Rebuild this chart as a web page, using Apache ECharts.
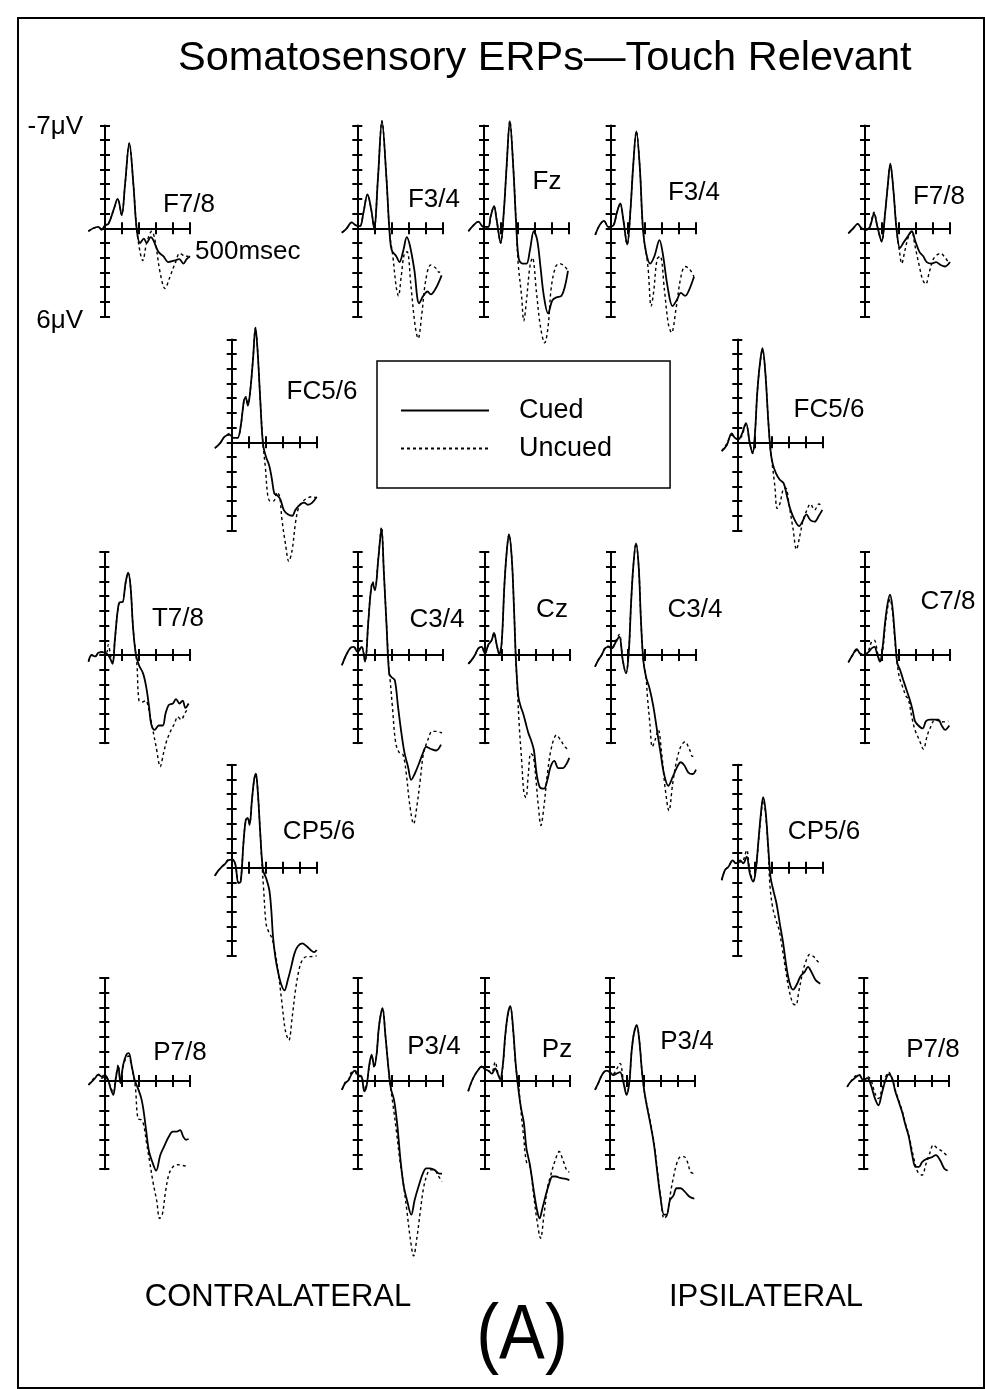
<!DOCTYPE html>
<html>
  <head>
    <meta charset="utf-8" />
    <title>Somatosensory ERPs</title>
    <script src="https://cdn.jsdelivr.net/npm/echarts@6/dist/echarts.min.js"></script>
    <style>
      body { margin: 0; background: #fff; }
    </style>
  </head>
  <body>
    <div id="main" style="width: 985px; height: 1389px;"></div>
    <script type="text/javascript">
      // waveforms: [ms, µV], negative is up
      const f78L_cued = [[-98,0.2],[-69,0],[-39,-0.1],[-20,0.1],[0,-0.2],[20,-0.3],[49,-1.2],[75,-2.0],[98,-0.9],[118,-3.0],[143,-5.8],[167,-3.0],[186,0],[206,1.0],[229,0.7],[245,1.0],[269,0.6],[284,0.8],[314,1.6],[343,1.9],[373,2.3],[406,2.2],[437,2.1],[461,2.4],[480,2.1],[500,1.9]];
      const f78L_uncued = [[-98,0.2],[-69,0],[-39,-0.1],[-20,0.1],[0,-0.2],[20,-0.3],[49,-1.2],[75,-2.0],[98,-0.9],[118,-3.0],[143,-5.8],[167,-3.0],[186,0],[206,1.6],[222,2.2],[245,1.0],[275,0.2],[294,0.8],[324,3.0],[353,4.1],[382,3.3],[412,2.4],[441,1.7],[471,1.9],[490,1.9]];
      const f34L_cued = [[-91,0.3],[-62,0],[-33,-0.4],[-8,-0.2],[16,-0.15],[35,-1.0],[60,-2.3],[83,-1.2],[99,0],[122,-3.5],[145,-7.3],[171,-3.5],[190,0.3],[203,1.5],[229,1.9],[248,2.3],[271,1.5],[291,0.6],[310,1.2],[335,2.8],[364,5.1],[388,4.6],[413,4.3],[432,4.5],[461,4.1],[496,3.2]];
      const f34L_uncued = [[-91,0.3],[-62,0],[-33,-0.4],[-8,-0.2],[16,-0.15],[35,-1.0],[60,-2.3],[83,-1.2],[99,0],[122,-3.5],[145,-7.3],[171,-3.5],[190,0.3],[209,1.9],[229,4.0],[242,4.6],[258,3.3],[277,1.7],[293,1.6],[316,4.0],[341,6.7],[358,7.5],[378,6.0],[403,3.5],[432,2.5],[461,2.7],[481,3.0],[490,2.8]];
      const fz_cued = [[-92,0.2],[-62,-0.2],[-33,-0.45],[-4,-0.1],[25,-0.1],[39,-0.8],[59,-1.5],[74,-0.6],[98,1.0],[117,-1.2],[133,-4.2],[152,-7.3],[172,-4.2],[191,0.1],[205,2.1],[227,2.4],[250,2.4],[270,1.5],[293,0.2],[313,0.8],[332,2.6],[352,4.6],[377,5.8],[402,4.9],[426,4.7],[455,4.6],[475,4.0],[494,2.9]];
      const fz_uncued = [[-92,0.2],[-62,-0.2],[-33,-0.45],[-4,-0.1],[25,-0.1],[39,-0.8],[59,-1.5],[74,-0.6],[98,1.0],[117,-1.2],[133,-4.2],[152,-7.3],[172,-4.2],[191,0.1],[201,2.4],[221,4.6],[234,6.3],[250,4.9],[270,2.6],[285,2.0],[309,4.4],[332,6.7],[357,7.8],[377,6.7],[396,4.0],[422,2.6],[445,2.4],[475,2.6],[494,2.9]];
      const f34R_cued = [[-91,0.45],[-66,-0.2],[-39,-0.5],[-14,-0.1],[16,-0.2],[35,-1.0],[56,-1.7],[74,-0.6],[97,1.1],[116,-1.2],[132,-4.2],[151,-6.6],[171,-4.2],[190,0.1],[209,1.7],[232,2.4],[257,1.9],[287,0.8],[306,1.7],[335,4.0],[364,5.3],[388,4.9],[413,4.4],[438,4.6],[461,4.2],[490,3.3]];
      const f34R_uncued = [[-91,0.45],[-66,-0.2],[-39,-0.5],[-14,-0.1],[16,-0.2],[35,-1.0],[56,-1.7],[74,-0.6],[97,1.1],[116,-1.2],[132,-4.2],[151,-6.6],[171,-4.2],[190,0.1],[219,2.6],[238,5.3],[252,4.4],[273,2.1],[291,1.9],[316,4.2],[339,6.5],[358,7.1],[384,5.5],[413,3.3],[438,2.6],[465,2.8],[490,3.3]];
      const f78R_cued = [[-98,0.34],[-69,0],[-43,-0.3],[-20,0],[6,0.1],[29,-0.1],[53,-1.0],[73,-0.1],[98,0.9],[118,-1.0],[133,-2.8],[149,-4.4],[167,-2.6],[186,0.1],[206,1.35],[225,1.0],[249,0.6],[275,0.2],[294,0.8],[320,1.6],[343,1.9],[363,2.3],[392,2.4],[418,2.3],[445,2.5],[471,2.6],[500,2.3]];
      const f78R_uncued = [[-98,0.34],[-69,0],[-43,-0.3],[-20,0],[6,0.1],[29,-0.2],[53,-1.1],[73,-0.1],[98,0.9],[118,-1.0],[133,-2.8],[149,-4.3],[167,-2.6],[186,0.1],[202,1.5],[216,2.4],[235,1.5],[255,0.6],[275,0.2],[294,1.2],[320,2.6],[339,3.5],[357,3.8],[378,3.0],[402,2.1],[425,1.8],[445,1.7],[465,1.9],[490,2.3]];
      const fc56L_cued = [[-99,0.4],[-69,0.07],[-40,-0.4],[-10,-0.5],[10,-0.3],[34,-0.3],[53,-1.1],[73,-2.9],[83,-3.0],[95,-2.5],[109,-3.5],[125,-5.6],[140,-7.8],[152,-6.3],[168,-2.9],[184,0.1],[202,1.0],[221,1.6],[237,2.55],[251,3.5],[267,3.6],[287,3.9],[306,4.6],[330,4.9],[356,5.0],[375,4.6],[401,4.25],[425,4.1],[449,4.25],[474,4.1],[500,3.7]];
      const fc56L_uncued = [[-99,0.4],[-69,0.07],[-40,-0.4],[-10,-0.6],[10,-0.3],[34,-0.3],[53,-1.1],[73,-2.9],[83,-3.1],[95,-2.6],[109,-3.5],[125,-5.6],[140,-7.8],[152,-6.3],[168,-2.9],[184,0.1],[198,1.7],[213,3.7],[227,4.0],[247,4.0],[267,3.4],[282,3.7],[296,5.3],[316,6.9],[336,8.1],[356,7.3],[375,5.5],[395,4.4],[421,4.0],[444,3.8],[474,3.7],[500,3.8]];
      const fc56R_cued = [[-92,0.6],[-62,0.2],[-33,-0.6],[-14,-0.3],[6,-0.2],[25,-0.5],[51,-1.3],[74,0.1],[90,0.75],[104,-0.6],[117,-3.3],[133,-5.35],[148,-6.4],[164,-4.9],[182,-1.5],[195,0.5],[207,1.4],[227,2.1],[250,2.55],[273,2.8],[293,3.7],[313,4.6],[338,5.3],[363,5.7],[387,5.3],[406,4.9],[430,5.3],[455,5.4],[480,5.0],[500,4.6]];
      const fc56R_uncued = [[-92,0.6],[-62,0.1],[-33,-0.5],[-14,-0.3],[6,-0.2],[25,-0.4],[51,-1.2],[74,0.1],[90,0.75],[104,-0.6],[117,-3.3],[133,-5.3],[148,-6.3],[164,-4.9],[182,-1.5],[195,0.5],[207,1.65],[221,3.0],[234,4.5],[250,4.2],[270,3.2],[285,3.1],[305,4.3],[328,5.9],[348,7.3],[367,6.4],[387,5.3],[406,4.7],[430,4.2],[455,4.6],[480,4.2],[500,4.4]];
      const t78_cued = [[-93,0.45],[-74,0],[-54,0.1],[-35,-0.15],[-16,-0.2],[14,-0.1],[33,0.2],[49,0.6],[62,-1.0],[82,-3.3],[95,-3.6],[107,-3.6],[125,-4.9],[140,-5.6],[154,-4.7],[169,-1.9],[185,-0.1],[204,0.7],[228,1.25],[247,2.2],[263,3.5],[276,4.7],[296,5.1],[321,4.8],[344,4.8],[360,4.0],[379,3.4],[403,3.3],[422,3.0],[442,3.3],[461,3.1],[477,3.6],[496,3.3]];
      const t78_uncued = [[-93,0.45],[-74,0],[-54,0.1],[-35,-0.15],[-16,-0.2],[14,-0.2],[23,-0.7],[40,0.2],[49,0.5],[62,-1.0],[82,-3.3],[95,-3.6],[107,-3.6],[125,-4.9],[140,-5.6],[154,-4.7],[169,-1.9],[185,-0.1],[193,0.8],[204,3.1],[224,3.2],[243,3.1],[263,3.75],[282,4.9],[305,6.25],[329,7.6],[348,6.7],[368,5.8],[393,5.1],[412,4.7],[432,4.2],[451,4.4],[477,3.9],[496,3.6]];
      const c34L_cued = [[-93,0.7],[-68,0],[-45,-0.45],[-25,-0.55],[0,-0.2],[23,-0.55],[43,0.45],[62,-2.2],[76,-4.2],[88,-4.9],[101,-4.4],[121,-6.5],[140,-8.6],[154,-5.6],[169,-2.2],[185,1.25],[198,1.5],[218,1.7],[237,3.5],[257,5.3],[276,6.7],[296,7.6],[315,8.5],[335,8.1],[360,7.4],[383,6.7],[403,6.25],[432,6.4],[461,6.5],[490,6.1]];
      const c34L_uncued = [[-93,0.7],[-68,0],[-45,-0.45],[-25,-0.6],[0,-0.3],[23,-0.6],[43,0.45],[62,-2.2],[76,-4.3],[88,-5.0],[101,-4.5],[121,-6.6],[140,-8.7],[154,-5.6],[169,-2.2],[185,1.25],[189,1.5],[204,3.5],[224,6.0],[247,6.7],[267,6.8],[286,8.1],[305,10.1],[329,11.5],[348,10.3],[368,8.5],[387,6.7],[412,5.8],[438,5.2],[461,5.2],[496,5.3]];
      const cz_cued = [[-94,0.6],[-75,0.35],[-55,0],[-35,-0.45],[-16,-0.55],[4,-0.1],[24,-0.7],[43,-1.0],[57,-1.5],[73,-0.7],[88,-0.05],[102,-0.8],[118,-4.7],[131,-6.9],[145,-8.2],[161,-6.7],[175,-3.1],[186,0.35],[200,2.8],[214,3.5],[229,4.0],[245,4.7],[259,5.3],[278,5.9],[292,6.5],[308,8.1],[327,9.0],[351,9.1],[371,8.5],[390,7.6],[412,7.2],[435,7.7],[461,7.7],[484,7.4],[500,7.0]];
      const cz_uncued = [[-94,0.6],[-75,0.35],[-55,0],[-35,-0.45],[-16,-0.55],[4,-0.1],[24,-0.7],[43,-1.0],[57,-1.5],[73,-0.7],[88,-0.05],[102,-0.8],[118,-4.7],[131,-6.9],[145,-8.2],[161,-6.7],[175,-3.1],[186,0.35],[194,2.2],[206,4.9],[220,7.2],[233,9.4],[245,9.7],[259,8.1],[273,6.7],[288,6.9],[304,8.5],[318,10.3],[333,11.6],[351,10.3],[371,8.1],[396,6.25],[425,5.45],[449,5.8],[475,6.25],[500,6.5]];
      const c34R_cued = [[-94,0.8],[-75,0.35],[-55,0],[-35,-0.45],[-16,-0.55],[4,-0.45],[29,-0.9],[49,-1.25],[69,0.35],[88,1.25],[104,-0.1],[118,-3.5],[131,-6.0],[147,-7.6],[163,-6.0],[176,-2.4],[190,0.35],[206,1.5],[225,2.2],[249,3.5],[273,5.3],[292,6.7],[312,8.1],[337,8.9],[363,8.3],[386,7.7],[410,7.3],[431,7.5],[455,8.0],[480,8.1],[500,7.8]];
      const c34R_uncued = [[-94,0.8],[-75,0.35],[-55,0],[-35,-0.5],[-16,-0.6],[4,-0.5],[29,-1.0],[49,-1.4],[69,0.3],[88,1.25],[104,-0.1],[118,-3.5],[131,-6.0],[147,-7.6],[163,-6.0],[176,-2.4],[190,0.35],[206,1.5],[214,2.8],[229,4.7],[243,6.25],[259,5.8],[278,5.1],[298,6.7],[318,9.0],[341,10.6],[363,8.75],[386,7.2],[410,6.25],[435,5.9],[461,6.4],[480,6.9],[500,6.8]];
      const c78_cued = [[-98,0.5],[-73,0],[-49,-0.4],[-29,-0.1],[-6,0],[20,-0.2],[39,-0.45],[55,-0.55],[73,0],[88,0.45],[104,-0.55],[118,-2.2],[133,-3.5],[147,-4.1],[161,-3.3],[176,-1.25],[190,0.55],[206,1.0],[225,1.7],[245,2.4],[265,3.1],[280,3.75],[294,4.5],[314,4.8],[339,5.0],[359,4.5],[382,4.4],[406,4.4],[431,4.4],[451,4.8],[471,5.1],[496,4.8]];
      const c78_uncued = [[-98,0.5],[-73,0],[-49,-0.3],[-29,-0.1],[-6,0],[20,-0.3],[39,-0.9],[55,-1.0],[73,-0.2],[88,0.5],[104,-0.3],[118,-1.9],[133,-3.2],[147,-3.8],[161,-3.0],[176,-1.0],[190,0.6],[202,1.5],[222,2.2],[241,2.8],[255,3.0],[275,4.2],[294,5.1],[320,5.8],[343,6.4],[367,5.45],[386,4.9],[412,4.4],[437,4.5],[461,4.55],[490,4.5]];
      const cp56L_cued = [[-99,0.55],[-79,0.2],[-59,-0.05],[-40,-0.25],[-20,-0.5],[0,-0.55],[20,-0.3],[40,1.05],[53,0.95],[69,-1.65],[83,-3.25],[95,-3.35],[105,-2.9],[119,-4.6],[132,-6.0],[142,-6.4],[154,-5.1],[168,-2.35],[184,0.15],[202,0.7],[221,1.5],[233,2.9],[243,4.7],[257,6.1],[271,7.0],[290,7.9],[310,8.35],[330,7.65],[350,6.75],[369,5.85],[389,5.35],[415,5.15],[441,5.35],[464,5.6],[484,5.75],[500,5.6]];
      const cp56L_uncued = [[-99,0.55],[-79,0.2],[-59,-0.05],[-40,-0.3],[-20,-0.55],[0,-0.6],[20,-0.3],[40,1.0],[53,0.9],[69,-1.65],[83,-3.25],[95,-3.4],[105,-3.0],[119,-4.6],[132,-6.0],[142,-6.4],[154,-5.1],[168,-2.35],[178,-0.3],[188,1.5],[202,3.8],[217,4.35],[237,4.8],[257,5.85],[277,7.4],[296,9.25],[316,11.1],[336,11.75],[356,10.15],[375,8.35],[395,7.0],[415,6.3],[441,6.05],[464,6.05],[500,6.0]];
      const cp56R_cued = [[-92,0.85],[-72,0.15],[-53,-0.05],[-27,-0.5],[-8,-0.3],[16,-0.5],[35,-0.3],[55,-0.75],[74,0.4],[94,0.95],[109,0.15],[123,-1.65],[139,-3.7],[152,-4.8],[166,-3.9],[182,-1.4],[195,0.6],[211,1.5],[230,2.4],[250,3.8],[270,5.15],[289,6.75],[309,7.9],[328,8.3],[352,7.9],[371,7.4],[396,7.1],[416,6.75],[436,7.1],[461,7.65],[488,7.9]];
      const cp56R_uncued = [[-92,0.85],[-72,0.15],[-53,-0.05],[-27,-0.5],[-8,-0.3],[16,-0.4],[35,-0.5],[55,-1.2],[74,0.2],[94,0.9],[109,0.1],[123,-1.5],[139,-3.5],[152,-4.6],[166,-3.7],[182,-1.2],[191,1.05],[207,2.65],[227,3.55],[246,4.25],[266,5.6],[285,7.0],[305,8.35],[328,9.25],[344,9.35],[363,8.35],[387,7.0],[406,6.3],[426,5.9],[449,6.05],[475,6.4],[494,6.5]];
      const p78L_cued = [[-93,0.27],[-74,0.05],[-54,-0.2],[-35,-0.45],[-16,-0.3],[4,-0.4],[23,-0.05],[37,0.5],[53,0.95],[68,-0.2],[82,-1.0],[95,0.15],[111,-1.1],[130,-1.8],[144,-1.9],[160,-1.1],[179,-0.05],[198,0.5],[218,1.2],[232,2.1],[247,3.45],[263,4.8],[282,5.5],[305,6.1],[329,5.05],[354,4.4],[379,3.8],[403,3.45],[426,3.45],[446,3.35],[465,3.8],[481,4.0],[496,3.95]];
      const p78L_uncued = [[-93,0.27],[-74,0],[-54,-0.3],[-35,-0.4],[-16,-0.2],[4,-0.3],[23,0],[37,0.4],[53,0.8],[68,-0.3],[82,-1.1],[95,0.1],[111,-1.0],[130,-1.6],[144,-1.7],[160,-1.0],[179,0.1],[185,0.7],[198,2.55],[218,2.65],[232,3.0],[247,4.1],[267,5.5],[286,6.85],[309,8.2],[325,9.35],[341,9.1],[360,7.55],[379,6.4],[403,5.85],[432,5.7],[461,5.75],[496,5.85]];
      const p34L_cued = [[-93,0.6],[-74,0.15],[-54,-0.05],[-35,-0.5],[-16,-0.7],[4,-0.4],[23,-0.3],[39,0.7],[53,0.3],[68,-1.1],[82,-1.8],[97,-1.0],[111,-1.8],[126,-3.8],[146,-4.95],[163,-3.1],[179,-1.1],[195,0.5],[214,1.3],[233,3.0],[251,5.3],[270,7.1],[292,8.2],[315,9.1],[335,8.1],[360,7.1],[383,6.3],[403,5.95],[426,5.95],[451,6.05],[481,6.3],[496,6.3]];
      const p34L_uncued = [[-93,0.6],[-74,0.1],[-54,-0.1],[-35,-0.6],[-16,-0.6],[4,-0.3],[23,-0.3],[39,0.6],[53,0.2],[68,-1.0],[82,-1.7],[97,-0.9],[111,-1.8],[126,-3.8],[146,-4.95],[163,-3.1],[179,-1.1],[189,0.05],[208,1.65],[228,3.45],[247,5.3],[270,7.1],[290,8.9],[309,10.7],[329,11.9],[348,10.7],[368,8.9],[387,7.3],[407,6.4],[426,6.05],[451,6.05],[471,6.4],[496,6.85]];
      const pz_cued = [[-99,0.7],[-79,0.05],[-60,-0.4],[-40,-0.75],[-20,-1.0],[0,-0.8],[20,-0.7],[40,-0.5],[60,-0.85],[75,-0.5],[89,-0.1],[105,-1.1],[119,-3.1],[135,-4.6],[149,-5.1],[165,-3.6],[181,-1.1],[198,0.7],[212,1.85],[228,2.8],[244,4.6],[264,5.7],[288,7.55],[308,8.9],[321,9.35],[337,8.7],[357,7.8],[377,7.0],[397,6.5],[417,6.5],[442,6.6],[470,6.65],[496,6.75]];
      const pz_uncued = [[-99,0.7],[-79,0.05],[-60,-0.4],[-40,-0.75],[-20,-1.0],[0,-0.8],[20,-0.7],[40,-0.6],[60,-1.3],[75,-0.6],[89,-0.2],[105,-1.0],[119,-3.0],[135,-4.5],[149,-5.0],[165,-3.5],[181,-1.0],[198,0.4],[212,2.1],[228,3.9],[244,5.5],[264,5.8],[284,7.55],[304,9.35],[327,10.7],[347,9.1],[367,7.3],[387,6.4],[410,5.5],[437,4.8],[456,5.3],[482,6.1],[496,6.2]];
      const p34R_cued = [[-88,0.6],[-69,0.15],[-43,-0.5],[-20,-0.7],[0,-0.6],[20,-0.4],[39,-0.5],[59,-0.6],[78,0.05],[98,0.95],[114,0.05],[127,-2.0],[141,-3.25],[157,-3.8],[173,-2.7],[188,-0.65],[202,0.7],[220,1.9],[239,3.0],[259,4.35],[278,6.2],[298,8.0],[318,9.1],[333,9.1],[353,8.1],[373,7.8],[392,7.3],[416,7.3],[441,7.55],[471,7.9],[496,8.0]];
      const p34R_uncued = [[-88,0.6],[-69,0.15],[-43,-0.5],[-20,-0.7],[0,-0.6],[20,-0.5],[39,-0.8],[59,-1.2],[78,-0.1],[98,0.9],[114,0.05],[127,-2.0],[141,-3.25],[157,-3.8],[173,-2.7],[188,-0.65],[202,0.7],[220,1.8],[239,2.9],[259,4.2],[278,6.0],[298,7.9],[318,9.35],[337,9.1],[357,7.55],[376,6.4],[396,5.5],[416,5.15],[435,5.15],[455,5.5],[475,6.2],[500,6.3]];
      const p78R_cued = [[-95,0.4],[-75,0.05],[-50,-0.2],[-24,-0.4],[0,-0.05],[24,-0.2],[44,0.25],[69,1.2],[89,1.65],[109,0.85],[129,0],[149,-0.45],[169,-0.2],[188,0.7],[208,1.4],[228,2.1],[248,3.0],[268,3.8],[288,5.05],[308,5.85],[327,5.85],[347,5.5],[373,5.3],[401,5.2],[427,5.05],[452,5.4],[476,5.95],[496,6.1]];
      const p78R_uncued = [[-95,0.4],[-75,0.05],[-50,-0.3],[-24,-0.45],[0,-0.1],[24,-0.3],[44,-0.1],[69,0.85],[89,1.2],[109,0.6],[129,-0.2],[149,-0.6],[169,-0.2],[188,0.6],[208,1.3],[228,2.0],[248,2.9],[268,3.7],[298,5.3],[321,6.2],[347,6.4],[367,5.7],[387,5.05],[413,4.35],[437,4.6],[466,4.8],[496,5.15]];

      const FONT = '"Liberation Sans", Arial, Helvetica, sans-serif';
      const UV = 191 / 13; // px per µV
      const MS = 0.17; // px per ms

      // label, axis origin x, zero line y, cued, uncued, label centre x, y
      const panels = [
        ["F7/8", 105, 228.3, f78L_cued, f78L_uncued, 189, 205],
        ["F3/4", 357.3, 228.3, f34L_cued, f34L_uncued, 434, 200],
        ["Fz", 484, 228.3, fz_cued, fz_uncued, 547, 182],
        ["F3/4", 610.7, 228.3, f34R_cued, f34R_uncued, 694, 193],
        ["F7/8", 865, 228.3, f78R_cued, f78R_uncued, 939, 197],
        ["FC5/6", 231.7, 442.3, fc56L_cued, fc56L_uncued, 322, 392],
        ["FC5/6", 737.3, 442.3, fc56R_cued, fc56R_uncued, 829, 410],
        ["T7/8", 104.3, 655, t78_cued, t78_uncued, 178, 619],
        ["C3/4", 357.7, 655, c34L_cued, c34L_uncued, 437, 620],
        ["Cz", 484.3, 655, cz_cued, cz_uncued, 552, 610],
        ["C3/4", 611, 655, c34R_cued, c34R_uncued, 695, 610],
        ["C7/8", 865, 655, c78_cued, c78_uncued, 948, 602],
        ["CP5/6", 231.7, 867.7, cp56L_cued, cp56L_uncued, 319, 832],
        ["CP5/6", 737.3, 867.7, cp56R_cued, cp56R_uncued, 824, 832],
        ["P7/8", 104.3, 1081, p78L_cued, p78L_uncued, 180, 1053],
        ["P3/4", 357.7, 1081, p34L_cued, p34L_uncued, 434, 1047],
        ["Pz", 485, 1081, pz_cued, pz_uncued, 557, 1050],
        ["P3/4", 610, 1081, p34R_cued, p34R_uncued, 687, 1042],
        ["P7/8", 863.3, 1081, p78R_cued, p78R_uncued, 933, 1050],
      ];

      const axisLineStyle = { color: "#000", width: 2 };
      const hidden = { show: false };

      const grid = [];
      const xAxis = [];
      const yAxis = [];
      const series = [];
      const graphic = [];

      panels.forEach((p, i) => {
        const [label, x0, y0, cued, uncued, lx, ly] = p;
        const top = y0 - 7 * UV;
        // data grid: -100 .. 500 ms, no visible axes
        grid.push({ left: x0 - 100 * MS, top: top, width: 600 * MS, height: 13 * UV });
        xAxis.push({ gridIndex: 2 * i, type: "value", min: -100, max: 500, show: false });
        yAxis.push({ gridIndex: 2 * i, type: "value", min: -7, max: 6, inverse: true, show: false });
        // axis grid: 0 .. 500 ms, two copies of each axis so the ticks cross the line
        grid.push({ left: x0, top: top, width: 500 * MS, height: 13 * UV });
        [false, true].forEach(inside => {
          xAxis.push({
            gridIndex: 2 * i + 1,
            type: "value",
            position: "bottom",
            min: 0,
            max: 500,
            interval: 100,
            axisLine: { show: !inside, onZero: true, lineStyle: axisLineStyle },
            axisTick: { show: true, inside: inside, length: 6, lineStyle: axisLineStyle },
            axisLabel: hidden,
            splitLine: hidden,
          });
          yAxis.push({
            gridIndex: 2 * i + 1,
            type: "value",
            position: "left",
            inverse: true,
            min: -7,
            max: 6,
            interval: 1,
            axisLine: { show: !inside, onZero: false, lineStyle: axisLineStyle },
            axisTick: { show: true, inside: inside, length: 5, lineStyle: axisLineStyle },
            axisLabel: hidden,
            splitLine: hidden,
          });
        });
        const common = {
          type: "line",
          xAxisIndex: 3 * i,
          yAxisIndex: 3 * i,
          symbol: "none",
          smooth: 0.35,
          clip: false,
          silent: true,
          itemStyle: { color: "#000" },
        };
        series.push(Object.assign({}, common, {
          name: "Cued",
          data: cued,
          lineStyle: { color: "#000", width: 1.8, type: "solid" },
          z: 3,
        }));
        series.push(Object.assign({}, common, {
          name: "Uncued",
          data: uncued,
          lineStyle: { color: "#000", width: 1.4, type: [3, 3] },
          z: 2,
        }));
        graphic.push({
          type: "text",
          x: lx,
          y: ly,
          style: {
            text: label,
            font: "26px " + FONT,
            fill: "#000",
            textAlign: "center",
            textVerticalAlign: "middle",
          },
        });
      });

      // frame, scale labels and bottom captions
      graphic.push(
        { type: "rect", shape: { x: 18, y: 18, width: 966, height: 1370 }, style: { fill: "none", stroke: "#000", lineWidth: 2 } },
        { type: "text", x: 83, y: 127, style: { text: "-7μV", font: "26px " + FONT, fill: "#000", textAlign: "right", textVerticalAlign: "middle" } },
        { type: "text", x: 83, y: 321, style: { text: "6μV", font: "26px " + FONT, fill: "#000", textAlign: "right", textVerticalAlign: "middle" } },
        { type: "text", x: 195, y: 252, style: { text: "500msec", font: "26px " + FONT, fill: "#000", textAlign: "left", textVerticalAlign: "middle" } },
        { type: "text", x: 278, y: 1297, style: { text: "CONTRALATERAL", font: "31px " + FONT, fill: "#000", textAlign: "center", textVerticalAlign: "middle" } },
        { type: "text", x: 766, y: 1297, style: { text: "IPSILATERAL", font: "31px " + FONT, fill: "#000", textAlign: "center", textVerticalAlign: "middle" } },
        { type: "text", x: 522, y: 1337, scaleX: 0.88, style: { text: "(A)", font: "78px " + FONT, fill: "#000", textAlign: "center", textVerticalAlign: "middle" } }
      );

      const myChart = echarts.init(document.getElementById("main"));
      const option = {
        animation: false,
        backgroundColor: "#fff",
        title: {
          text: "Somatosensory ERPs\u2014Touch Relevant",
          left: 178,
          top: 38,
          padding: 0,
          textStyle: { fontFamily: FONT, fontSize: 41.5, fontWeight: "normal", color: "#000" },
        },
        legend: {
          data: ["Cued", "Uncued"],
          orient: "vertical",
          left: 377,
          top: 361,
          padding: [36, 58, 26, 23],
          itemWidth: 88,
          itemHeight: 20,
          itemGap: 11,
          selectedMode: false,
          borderColor: "#000",
          borderWidth: 1.5,
          backgroundColor: "#fff",
          itemStyle: { opacity: 0 },
          textStyle: { fontFamily: FONT, fontSize: 27, color: "#000", padding: [0, 0, 0, 25] },
        },
        grid: grid,
        xAxis: xAxis,
        yAxis: yAxis,
        series: series,
        graphic: graphic,
      };
      myChart.setOption(option);
    </script>
  </body>
</html>
